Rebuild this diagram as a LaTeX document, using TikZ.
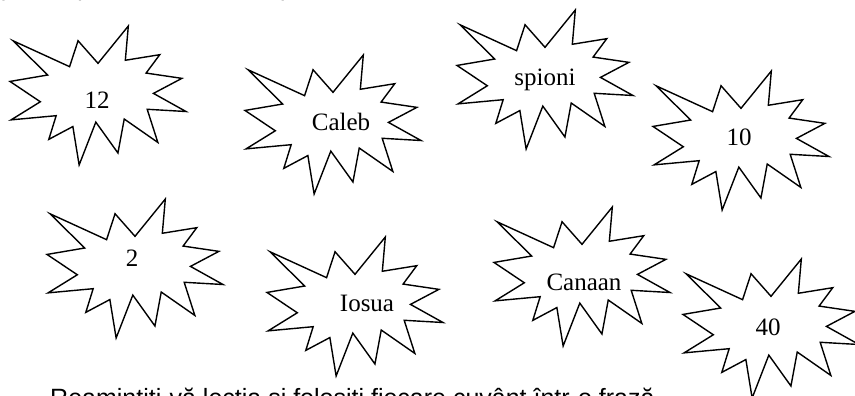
\documentclass[tikz,border=0pt]{standalone}
\usepackage{fontspec}
\setmainfont{Liberation Serif}
\newfontfamily\instrfont{Liberation Sans}
\tikzset{
  burstline/.style={draw=black, line width=1.4pt, line join=miter, miter limit=20, fill=white},
  burstlabel/.style={font=\fontsize{25}{30}\selectfont, anchor=base, inner sep=0pt},
  instr/.style={font=\instrfont\fontsize{25}{30}\selectfont, anchor=base west, inner sep=0pt},
  task/.style={font=\instrfont\itshape\fontsize{25}{30}\selectfont, anchor=base west, inner sep=0pt},
  burstscale/.style={x=0.8148pt, y=-0.6435pt},
  pics/burst/.style={code={
    \draw[burstline] (108,58) -- (145.22,0) -- (141.55,53.25) -- (183.80,44.57)
      -- (167.02,73.15) -- (210.97,81.37) -- (176.07,104.75) -- (216,132.90)
      -- (168.37,129.42) -- (181.45,180.95) -- (140.20,144.57) -- (132.47,197.37)
      -- (105.32,149.35) -- (84.85,216) -- (77.15,156.27) -- (47.62,176.17)
      -- (56.67,139.37) -- (1.35,145.87) -- (37.22,117.75) -- (0,86.15)
      -- (46.27,76.17) -- (3.70,22.95) -- (73.12,63.20) -- (83.52,22.95) -- cycle;
  }}
}
\begin{document}
\begin{tikzpicture}[x=1pt,y=-1pt]
\useasboundingbox (0,0) rectangle (855,396);
\clip (0,0) rectangle (855,396);

\node[task] (task) at (3,-4.5) {pune apoi fiecare cuvânt potrivit};
\node[instr] (instr) at (50,406) {Reamintiţi-vă lecţia şi folosiţi fiecare cuvânt într-o frază.};

\begin{scope}[shift={(10,26)},burstscale] \pic {burst}; \end{scope}
\node[burstlabel] (n12) at (97,108.3) {12};

\begin{scope}[shift={(245,55)},burstscale] \pic {burst}; \end{scope}
\node[burstlabel] (caleb) at (341,130.7) {Caleb};

\begin{scope}[shift={(457,10)},burstscale] \pic {burst}; \end{scope}
\node[burstlabel] (spioni) at (545,86) {spioni};

\begin{scope}[shift={(653,71)},burstscale] \pic {burst}; \end{scope}
\node[burstlabel] (n10) at (739,146) {10};

\begin{scope}[shift={(47,199)},burstscale] \pic {burst}; \end{scope}
\node[burstlabel] (n2) at (132,266) {2};

\begin{scope}[shift={(267,237)},burstscale] \pic {burst}; \end{scope}
\node[burstlabel] (iosua) at (367,311.7) {Iosua};

\begin{scope}[shift={(494,207)},burstscale] \pic {burst}; \end{scope}
\node[burstlabel] (canaan) at (584,290) {Canaan};

\begin{scope}[shift={(683,259)},burstscale] \pic {burst}; \end{scope}
\node[burstlabel] (n40) at (768,335) {40};
\end{tikzpicture}
\end{document}
